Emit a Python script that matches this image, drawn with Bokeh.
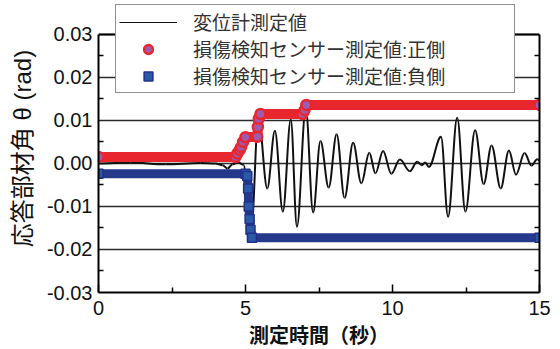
from bokeh.plotting import figure
from bokeh.models import (Range1d, LinearAxis, FixedTicker, NumeralTickFormatter,
                          Legend, LegendItem, ColumnDataSource, Span)
from bokeh.embed import file_html
from bokeh.resources import INLINE

# ---------------- data ----------------
x_major_ticks = [0, 5, 10, 15]
x_minor_ticks = [2.5, 7.5, 12.5]
y_major_ticks = [-0.03, -0.02, -0.01, 0.0, 0.01, 0.02, 0.03]
y_minor_ticks = [-0.025, -0.015, -0.005, 0.005, 0.015, 0.025]

series_names = ["変位計測定値", "損傷検知センサー測定値:正側", "損傷検知センサー測定値:負側"]
x_title = "測定時間（秒）"
y_title = "応答部材角 θ (rad)"

# displacement meter: successive extremes (peaks / troughs) of the response
disp_t = [0.00, 1.09, 2.28, 3.47, 3.98, 4.22, 4.39, 4.56, 4.76, 4.93,
          5.19, 5.44, 5.74, 6.00, 6.27, 6.54, 6.75, 7.05, 7.30, 7.55,
          7.83, 8.10, 8.37, 8.66, 8.94, 9.21, 9.42, 9.68, 9.96, 10.25,
          10.59, 10.84, 11.00, 11.11, 11.24, 11.65, 11.89, 12.20, 12.48, 12.81,
          13.10, 13.37, 13.68, 13.96, 14.20, 14.49, 14.73, 14.92, 15.00]
disp_v = [0.0000, 0.0002, -0.0002, 0.0001, 0.0000, -0.0004, -0.0012, -0.0002, 0.0002, -0.0003,
          -0.0160, 0.0108, -0.0058, 0.0076, -0.0112, 0.0102, -0.0147, 0.0127, -0.0114, 0.0052,
          -0.0056, 0.0068, -0.0080, 0.0048, -0.0046, 0.0025, -0.0023, 0.0029, -0.0024, 0.0009,
          -0.0018, 0.0004, -0.0004, 0.0002, -0.0008, 0.0062, -0.0124, 0.0106, -0.0112, 0.0077,
          -0.0048, 0.0042, -0.0058, 0.0030, -0.0026, 0.0024, -0.0005, 0.0010, 0.0007]

# damage sensor, positive side
pos_t = [0.00, 4.66, 4.72, 4.80, 4.85, 4.92, 5.00, 5.40, 5.42, 5.45, 5.51, 6.94, 7.01, 7.07, 15.00]
pos_v = [0.0015, 0.0015, 0.0023, 0.0031, 0.0038, 0.0050, 0.0061, 0.0062, 0.0085, 0.0104,
         0.0115, 0.0115, 0.0124, 0.0136, 0.0136]

# damage sensor, negative side
neg_t = [0.00, 5.00, 5.06, 5.09, 5.11, 5.14, 5.17, 5.22, 15.00]
neg_v = [-0.0024, -0.0024, -0.0029, -0.0058, -0.0100, -0.0129, -0.0154, -0.0173, -0.0173]

# ---------------- figure ----------------
TICK_FONT = "Liberation Sans"
CJK_FONT = "Liberation Sans, Noto Sans CJK JP"
Y_LO, Y_HI = y_major_ticks[0], y_major_ticks[-1]

# the frame reaches a little above the top tick so that the legend box can overhang the border
p = figure(width=560, height=349, x_range=Range1d(0, 15), y_range=Range1d(Y_LO, 0.03695),
           output_backend="svg", toolbar_location=None,
           min_border_left=98, min_border_right=21, min_border_top=4, min_border_bottom=56)
p.outline_line_color = None
p.background_fill_color = "white"
p.border_fill_color = "white"

xt = FixedTicker(ticks=x_major_ticks, minor_ticks=x_minor_ticks)
yt = FixedTicker(ticks=y_major_ticks, minor_ticks=y_minor_ticks)

xa = p.xaxis[0]
xa.ticker = xt
xa.axis_line_width = 2
xa.major_tick_in = 8
xa.major_tick_out = 0
xa.minor_tick_in = 5
xa.minor_tick_out = 0
xa.major_tick_line_width = 1.5
xa.minor_tick_line_width = 1.5
xa.major_label_text_font = TICK_FONT
xa.major_label_text_font_size = "20px"
xa.major_label_text_color = "#111111"
xa.major_label_standoff = 8
xa.axis_label = x_title
xa.axis_label_text_font = CJK_FONT
xa.axis_label_text_font_size = "20px"
xa.axis_label_text_font_style = "bold"
xa.axis_label_text_color = "#111111"
xa.axis_label_standoff = 7

ya = p.yaxis[0]
ya.ticker = yt
ya.bounds = (Y_LO, Y_HI)
ya.formatter = NumeralTickFormatter(format="0.00")
ya.axis_line_width = 2
ya.major_tick_in = 0
ya.major_tick_out = 0
ya.minor_tick_in = 5
ya.minor_tick_out = 0
ya.minor_tick_line_width = 1.5
ya.major_label_text_font = TICK_FONT
ya.major_label_text_font_size = "20px"
ya.major_label_text_color = "#111111"
ya.major_label_standoff = 6
ya.axis_label = y_title
ya.axis_label_text_font = CJK_FONT
ya.axis_label_text_font_size = "24px"
ya.axis_label_text_font_style = "normal"
ya.axis_label_text_color = "#111111"
ya.axis_label_standoff = 8

ra = LinearAxis(ticker=FixedTicker(ticks=[], minor_ticks=y_minor_ticks), axis_line_width=2,
                bounds=(Y_LO, Y_HI),
                major_tick_in=0, major_tick_out=0, minor_tick_in=5, minor_tick_out=0,
                minor_tick_line_width=1.5)
p.add_layout(ra, "right")

p.xgrid.visible = False
p.ygrid.ticker = yt
p.ygrid.grid_line_color = "#2a2a2a"
p.ygrid.grid_line_width = 1.5

top_border = Span(location=Y_HI, dimension="width", line_color="black", line_width=2, level="underlay")
p.add_layout(top_border)

# displacement line (smooth curve through successive extremes)
k = 0.36
bez = ColumnDataSource(dict(
    x0=disp_t[:-1], y0=disp_v[:-1], x1=disp_t[1:], y1=disp_v[1:],
    cx0=[a + k * (b - a) for a, b in zip(disp_t[:-1], disp_t[1:])], cy0=disp_v[:-1],
    cx1=[b - k * (b - a) for a, b in zip(disp_t[:-1], disp_t[1:])], cy1=disp_v[1:],
))
p.bezier(x0="x0", y0="y0", x1="x1", y1="y1", cx0="cx0", cy0="cy0", cx1="cx1", cy1="cy1",
         source=bez, line_color="#111111", line_width=2.0)
# legend swatch for the displacement curve (no drawable point of its own)
leg_line = p.line(x=[float("nan")], y=[float("nan")], line_color="#111111", line_width=1.2)

# positive sensor
p.line(pos_t, pos_v, line_color="#E8262D", line_width=10, line_join="round", line_cap="round")
red_pts = p.scatter(pos_t, pos_v, marker="circle", size=10, fill_color="#A05AAE",
                    line_color="#E8262D", line_width=2.5)

# negative sensor
p.line(neg_t, neg_v, line_color="#24388C", line_width=9, line_join="round", line_cap="square")
blue_pts = p.scatter(neg_t, neg_v, marker="square", size=9, fill_color="#2C58A8",
                     line_color="#1F3188", line_width=1.5)

legend = Legend(items=[LegendItem(label=series_names[0], renderers=[leg_line]),
                       LegendItem(label=series_names[1], renderers=[red_pts]),
                       LegendItem(label=series_names[2], renderers=[blue_pts])],
                location=(17, 199), margin=0, padding=3, spacing=0,
                glyph_width=58, glyph_height=22, label_height=22, label_width=318,
                label_standoff=16, label_text_font=CJK_FONT, label_text_font_size="19px",
                label_text_color="#333333", border_line_color="#222222", border_line_width=1.5,
                background_fill_color="white", background_fill_alpha=1.0)
p.add_layout(legend)

open("out.html", "w").write(file_html(p, INLINE))
